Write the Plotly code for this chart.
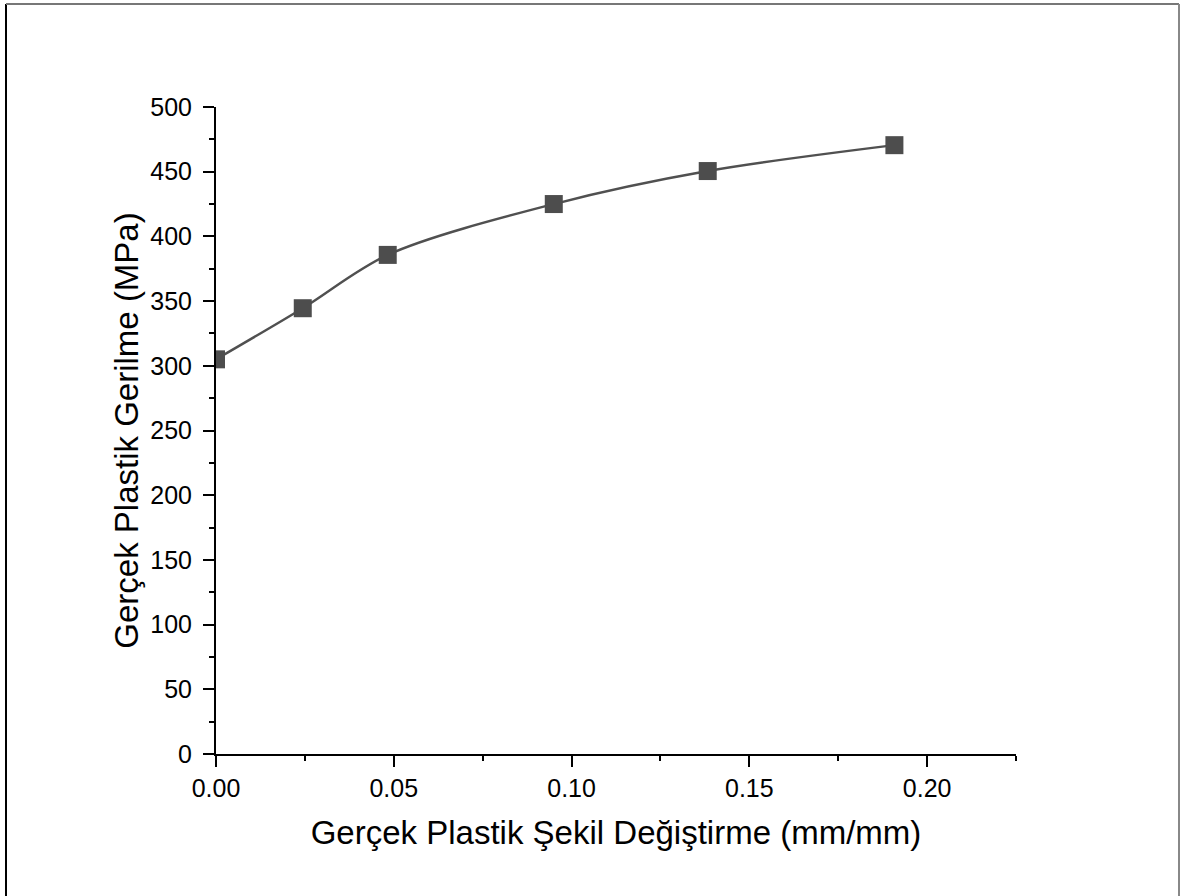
import plotly.graph_objects as go

# True plastic strain (mm/mm) and true plastic stress (MPa)
strain = [0.0, 0.0244, 0.0483, 0.0950, 0.1383, 0.1908]
stress = [305.0, 344.5, 385.7, 425.0, 450.5, 470.5]

x_ticks = [0.00, 0.05, 0.10, 0.15, 0.20]
x_tick_text = ["0.00", "0.05", "0.10", "0.15", "0.20"]
y_ticks = [0, 50, 100, 150, 200, 250, 300, 350, 400, 450, 500]

W, H = 1183, 896
L, R, T, B = 216, 167, 107, 142
pw, ph = W - L - R, H - T - B


def px(xp):
    return (xp - L) / pw


def py(yp):
    return (H - B - yp) / ph


fig = go.Figure()
fig.add_trace(go.Scatter(
    x=strain, y=stress,
    mode="lines+markers",
    line=dict(color="#505050", width=2.4, shape="spline", smoothing=0.9),
    marker=dict(symbol="square", size=18, color="#4d4d4d"),
    showlegend=False,
))

axis_font = dict(family="Liberation Sans, Arial, sans-serif", size=25, color="black")
title_font = dict(family="Liberation Sans, Arial, sans-serif", size=33, color="black")

fig.update_layout(
    width=W, height=H,
    margin=dict(l=L, r=R, t=T, b=B),
    paper_bgcolor="white", plot_bgcolor="white",
    font=axis_font,
    xaxis=dict(
        range=[0, 0.225], tickvals=x_ticks, ticktext=x_tick_text,
        showgrid=False, zeroline=False,
        showline=True, linecolor="black", linewidth=2,
        ticks="outside", ticklen=11, tickwidth=2, tickcolor="black",
        minor=dict(ticks="outside", ticklen=5, tickwidth=2, tickcolor="black", dtick=0.025, tick0=0),
        tickfont=axis_font,
        title=dict(text="Gerçek Plastik Şekil Değiştirme (mm/mm)", font=title_font, standoff=20),
    ),
    yaxis=dict(
        range=[0, 500], tickvals=y_ticks,
        showgrid=False, zeroline=False,
        showline=True, linecolor="black", linewidth=2,
        ticks="outside", ticklen=11, tickwidth=2, tickcolor="black",
        ticklabelstandoff=6,
        minor=dict(ticks="outside", ticklen=5, tickwidth=2, tickcolor="black", dtick=25, tick0=0),
        tickfont=axis_font,
        title=dict(text="Gerçek Plastik Gerilme (MPa)", font=title_font, standoff=2),
    ),
)

# Page frame around the figure
fig.add_shape(type="line", xref="paper", yref="paper",
              x0=px(6), x1=px(6), y0=py(4), y1=py(900),
              line=dict(color="black", width=2))
fig.add_shape(type="line", xref="paper", yref="paper",
              x0=px(6), x1=px(1179), y0=py(4), y1=py(4),
              line=dict(color="#777777", width=2))
fig.add_shape(type="line", xref="paper", yref="paper",
              x0=px(1179), x1=px(1179), y0=py(4), y1=py(900),
              line=dict(color="#888888", width=2))

fig.write_html("out.html")
